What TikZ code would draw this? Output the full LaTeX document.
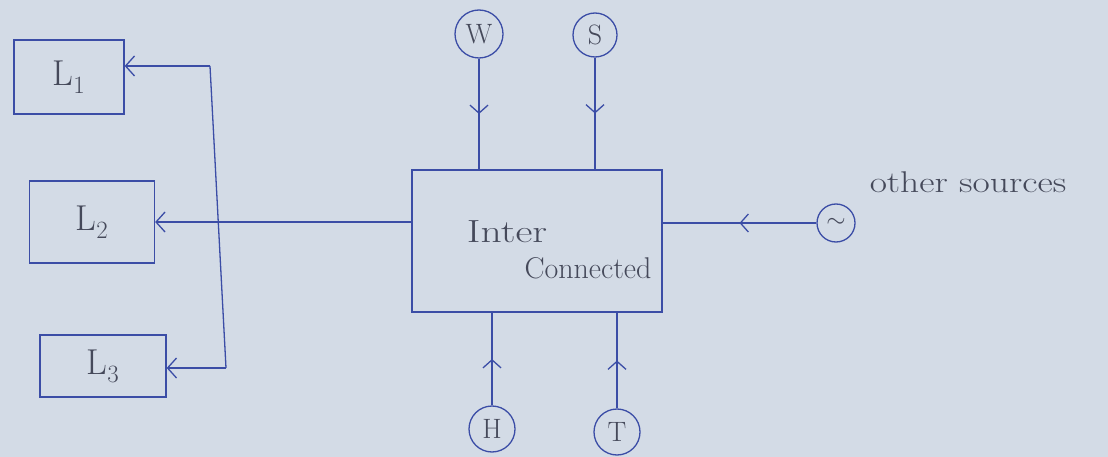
\documentclass[tikz,border=0pt]{standalone}
\usepackage{fontspec}
\setmainfont{Latin Modern Roman}
\usetikzlibrary{arrows.meta,decorations.markings}
\definecolor{paper}{HTML}{D3DBE6}
\definecolor{ink}{HTML}{3B4DA6}
\definecolor{pencil}{HTML}{45495A}
\begin{document}
\begin{tikzpicture}[x=1pt,y=-1pt,
  wire/.style={draw=ink, line width=1.3pt},
  loadbox/.style={draw=ink, line width=1.3pt, text=pencil, font=\fontsize{36}{38}\selectfont},
  srccirc/.style={circle, draw=ink, line width=1.3pt, inner sep=0pt, minimum size=46pt, text=pencil, font=\fontsize{28}{30}\selectfont},
  barbtip/.style={-{Straight Barb[length=9pt,width=20pt]}},
  midarrow/.style={postaction=decorate, decoration={markings, mark=at position 0.5 with {\arrow{Straight Barb[length=8pt,width=18pt]}}}},
  lbl/.style={text=pencil, inner sep=0pt}
]
\useasboundingbox[fill=paper] (0,0) rectangle (1108,457);

% load boxes
\node[loadbox, minimum width=110pt, minimum height=74pt] (L1) at (69,77) {L$_1$};
\node[loadbox, minimum width=125pt, minimum height=82pt] (L2) at (92,222) {L$_2$};
\node[loadbox, minimum width=126pt, minimum height=62pt] (L3) at (103,366) {L$_3$};

% interconnected system
\node[draw=ink, line width=1.3pt, minimum width=250pt, minimum height=142pt] (IC) at (537,241) {};
\node[lbl, font=\fontsize{32}{34}\selectfont] (ict1) at (507,232) {\scalebox{1.3}[1]{Inter}};
\node[lbl, font=\fontsize{30}{32}\selectfont] (ict2) at (588,268) {Connected};

% sources
\node[srccirc, minimum size=48pt] (W) at (479,34) {W};
\node[srccirc, minimum size=44pt] (S) at (595,35) {S};
\node[srccirc] (H) at (492,429) {H};
\node[srccirc] (T) at (617,432) {T};
\node[srccirc, minimum size=38pt, font=\fontsize{32}{34}\selectfont] (AC) at (836,223) {$\sim$};
\node[lbl, font=\fontsize{30}{32}\selectfont] (os) at (968,182) {\scalebox{1.25}[1]{other sources}};

% source connectors
\draw[wire, midarrow] (W.south) -- (W.south |- IC.north);
\draw[wire, midarrow] (S.south) -- (S.south |- IC.north);
\draw[wire, midarrow] (H.north) -- (H.north |- IC.south);
\draw[wire, midarrow] (T.north) -- (T.north |- IC.south);
\draw[wire, midarrow] (AC.west) -- (AC.west -| IC.east);

% distribution to loads
\coordinate (bt) at (210,66);
\coordinate (bb) at (226,368);
\draw[wire] (bt) -- (bb);
\draw[wire, barbtip] (IC.west |- L2.east) -- (L2.east);
\draw[wire, barbtip] (bt) -- (L1.east |- bt);
\draw[wire, barbtip] (bb) -- (L3.east |- bb);
\end{tikzpicture}
\end{document}
